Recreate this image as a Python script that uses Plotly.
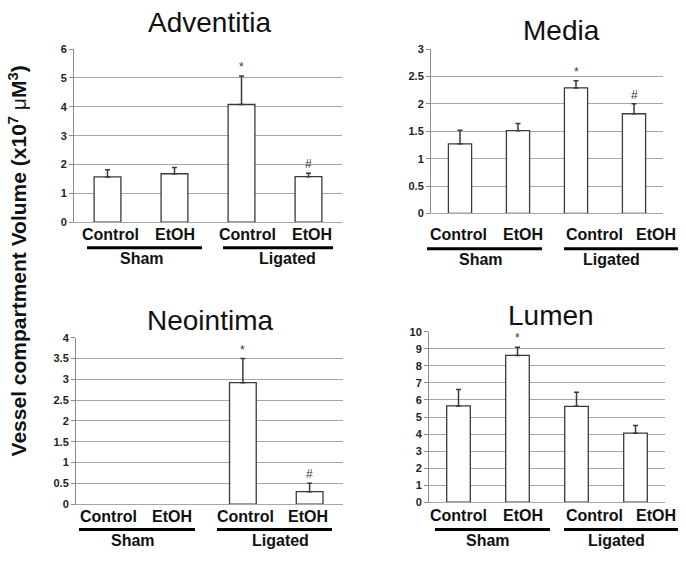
import plotly.graph_objects as go

W, H = 686, 561

# ---- data ----
categories = ["Control", "EtOH", "Control", "EtOH"]
groups = ["Sham", "Ligated"]

adventitia = [1.57, 1.68, 4.08, 1.58]
adventitia_top = [1.82, 1.90, 5.07, 1.70]
adventitia_marks = ["", "", "*", "#"]

media = [1.27, 1.51, 2.29, 1.82]
media_top = [1.52, 1.64, 2.42, 2.00]
media_marks = ["", "", "*", "#"]

neointima = [0, 0, 2.92, 0.30]
neointima_top = [None, None, 3.50, 0.50]
neointima_marks = ["", "", "*", "#"]

lumen = [5.65, 8.62, 5.63, 4.05]
lumen_top = [6.62, 9.10, 6.45, 4.50]
lumen_marks = ["", "*", "", ""]

# ---- layout config (pixel positions) ----
panels = [
    dict(title="Adventitia", vals=adventitia, tops=adventitia_top, marks=adventitia_marks,
         x0=74, x1=342, y0=44, y1=221, ymax=6, dtick=1, txy=(209, 16.5),
         lab_x=[110, 175, 247, 312], lab_y=233, lines=[(87, 202), (223, 333)], line_y=247,
         grp_x=[142, 287], grp_y=258),
    dict(title="Media", vals=media, tops=media_top, marks=media_marks,
         x0=431, x1=663, y0=44, y1=212, ymax=3, dtick=0.5, txy=(561, 25),
         lab_x=[458, 523, 594, 656], lab_y=233, lines=[(427, 542), (564, 678)], line_y=248,
         grp_x=[481, 611], grp_y=259),
    dict(title="Neointima", vals=neointima, tops=neointima_top, marks=neointima_marks,
         x0=76, x1=343, y0=339, y1=509, ymax=4, dtick=0.5, txy=(210, 321),
         lab_x=[108, 172, 245, 308], lab_y=522, lines=[(79, 195), (217, 332)], line_y=535,
         grp_x=[133, 280], grp_y=546),
    dict(title="Lumen", vals=lumen, tops=lumen_top, marks=lumen_marks,
         x0=429, x1=665, y0=333, y1=507, ymax=10, dtick=1, txy=(551, 316.5),
         lab_x=[458, 523, 594, 656], lab_y=521, lines=[(435, 550), (564, 678)], line_y=535,
         grp_x=[488, 616], grp_y=546),
]

def fx(p):
    return p / W

def fy(p):
    return 1 - p / H

FONT = "Liberation Sans, Arial, sans-serif"
GRID = "#a6a6a6"
EDGE = "#3a3a3a"

fig = go.Figure()
annotations = []
shapes = []

for i, p in enumerate(panels):
    n = i + 1
    xa = "x" if n == 1 else f"x{n}"
    ya = "y" if n == 1 else f"y{n}"
    # only bars with a height are drawn (zero bars are invisible in the reference)
    pts = [(k, v, t) for k, (v, t) in enumerate(zip(p["vals"], p["tops"])) if v > 0]
    xs = [k for k, _, _ in pts]
    ys = [v for _, v, _ in pts]
    errs = [(t - v) if t is not None else 0 for _, v, t in pts]
    fig.add_trace(go.Bar(
        x=xs, y=ys, xaxis=xa, yaxis=ya, width=0.4,
        marker=dict(color="white", line=dict(color=EDGE, width=1.3)),
        error_y=dict(type="data", symmetric=False, array=errs,
                     arrayminus=[0] * len(xs), color=EDGE, thickness=1.5, width=2.5),
        showlegend=False, hoverinfo="skip",
    ))
    lk = "xaxis" if n == 1 else f"xaxis{n}"
    lky = "yaxis" if n == 1 else f"yaxis{n}"
    fig.update_layout(**{
        lk: dict(domain=[fx(p["x0"]), fx(p["x1"])], range=[-0.5, 3.5],
                 showticklabels=False, showgrid=False, zeroline=False,
                 showline=True, linecolor=GRID, linewidth=1, anchor=ya, fixedrange=True),
        lky: dict(domain=[fy(p["y1"]), fy(p["y0"])], range=[0, p["ymax"]],
                  dtick=p["dtick"], showgrid=True, gridcolor=GRID, gridwidth=1,
                  zeroline=False, showline=True, linecolor="#8c8c8c", linewidth=1,
                  ticks="outside", ticklen=4, tickcolor="#8c8c8c",
                  tickfont=dict(family=FONT, size=11, color="#222", weight="bold"),
                  anchor=xa, fixedrange=True),
    })
    # significance marks
    for k, (t, m) in enumerate(zip(p["tops"], p["marks"])):
        if m:
            annotations.append(dict(x=k, y=t, xref=xa, yref=ya, text=m, showarrow=False,
                                    yanchor="bottom", yshift=0,
                                    font=dict(family=FONT, size=12, color="#333")))
    # panel title
    annotations.append(dict(x=fx(p["txy"][0]), y=fy(p["txy"][1]), xref="paper", yref="paper",
                            text=p["title"], showarrow=False, xanchor="center", yanchor="middle",
                            font=dict(family=FONT, size=28, color="#111")))
    # category labels
    for lx, lab in zip(p["lab_x"], categories):
        annotations.append(dict(x=fx(lx), y=fy(p["lab_y"]), xref="paper", yref="paper",
                                text=f"<b>{lab}</b>", showarrow=False, xanchor="center",
                                yanchor="middle", font=dict(family=FONT, size=16, color="#111")))
    # group underlines + labels
    for (a, b), gx, g in zip(p["lines"], p["grp_x"], groups):
        shapes.append(dict(type="line", xref="paper", yref="paper",
                           x0=fx(a), x1=fx(b), y0=fy(p["line_y"]), y1=fy(p["line_y"]),
                           line=dict(color="black", width=3)))
        annotations.append(dict(x=fx(gx), y=fy(p["grp_y"]), xref="paper", yref="paper",
                                text=f"<b>{g}</b>", showarrow=False, xanchor="center",
                                yanchor="middle", font=dict(family=FONT, size=16, color="#111")))

annotations.append(dict(x=fx(18), y=fy(261), xref="paper", yref="paper",
                        text="<b>Vessel compartment Volume (x10<sup>7</sup> </b>μ<b>M<sup>3</sup>)</b>",
                        textangle=-90, showarrow=False, xanchor="center", yanchor="middle",
                        font=dict(family=FONT, size=21, color="#111")))

fig.update_layout(width=W, height=H, margin=dict(l=0, r=0, t=0, b=0),
                  paper_bgcolor="white", plot_bgcolor="white",
                  annotations=annotations, shapes=shapes, bargap=0.6)

fig.write_html("out.html", config={"displayModeBar": False},
               post_script="document.body.style.margin='0';document.body.style.overflow='hidden';")
